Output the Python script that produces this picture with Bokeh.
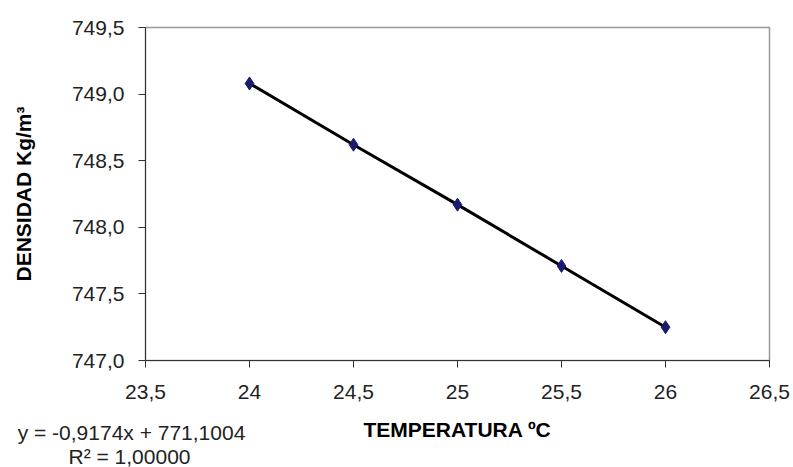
from bokeh.plotting import figure
from bokeh.models import FixedTicker, Label, Range1d, Title
from bokeh.embed import file_html
from bokeh.resources import INLINE

# Data
temperatura = [24.0, 24.5, 25.0, 25.5, 26.0]
densidad = [749.08, 748.62, 748.17, 747.71, 747.25]

x_ticks = [23.5, 24.0, 24.5, 25.0, 25.5, 26.0, 26.5]
x_tick_labels = ["23,5", "24", "24,5", "25", "25,5", "26", "26,5"]
y_ticks = [747.0, 747.5, 748.0, 748.5, 749.0, 749.5]
y_tick_labels = ["747,0", "747,5", "748,0", "748,5", "749,0", "749,5"]

x_title = "TEMPERATURA ºC"
y_title = "DENSIDAD Kg/m³"
eq_line1 = "y = -0,9174x + 771,1004"
eq_line2 = "R² = 1,00000"

FONT = "Liberation Sans"

p = figure(width=793, height=467, output_backend="svg", toolbar_location=None,
           x_range=Range1d(x_ticks[0], x_ticks[-1]),
           y_range=Range1d(y_ticks[0], y_ticks[-1]),
           min_border_left=145, min_border_right=24,
           min_border_top=27, min_border_bottom=107)

p.xgrid.visible = False
p.ygrid.visible = False
p.outline_line_color = "#999999"
p.outline_line_width = 1.5
p.background_fill_color = "white"
p.border_fill_color = "white"

p.xaxis.ticker = FixedTicker(ticks=x_ticks)
p.yaxis.ticker = FixedTicker(ticks=y_ticks)
p.xaxis.major_label_overrides = {t: l for t, l in zip(x_ticks, x_tick_labels)}
p.yaxis.major_label_overrides = {t: l for t, l in zip(y_ticks, y_tick_labels)}

for ax in (p.xaxis, p.yaxis):
    ax.axis_line_color = "#333333"
    ax.axis_line_width = 1
    ax.major_tick_line_color = "#333333"
    ax.major_tick_out = 7
    ax.major_tick_in = 0
    ax.minor_tick_line_color = None
    ax.major_label_text_font = FONT
    ax.major_label_text_font_size = "21px"
    ax.major_label_text_color = "#222222"
    ax.major_label_standoff = 14
    ax.axis_label_text_font = FONT
    ax.axis_label_text_font_size = "21px"
    ax.axis_label_text_font_style = "bold"
    ax.axis_label_text_color = "#000000"

p.xaxis.axis_label = x_title
p.yaxis.axis_label = y_title
p.xaxis.major_label_standoff = 17
p.xaxis.axis_label_standoff = 16
p.yaxis.axis_label_standoff = 34

p.line(temperatura, densidad, line_color="black", line_width=3)
p.scatter(temperatura, densidad, marker="diamond", size=13,
          fill_color="#1a1a6e", line_color="#1a1a6e")

# regression equation, drawn in the margins
p.add_layout(Label(x=-14, y=-405, x_units="screen", y_units="screen", text=eq_line1,
                   text_font=FONT, text_font_size="21px", text_color="#222222",
                   text_align="center", text_baseline="alphabetic"), "above")
p.add_layout(Title(text=eq_line2, align="left", offset=-77, standoff=-2,
                   vertical_align="bottom",
                   text_font=FONT, text_font_size="21px", text_color="#222222",
                   text_font_style="normal"), "below")

open("out.html", "w").write(file_html(p, INLINE))
